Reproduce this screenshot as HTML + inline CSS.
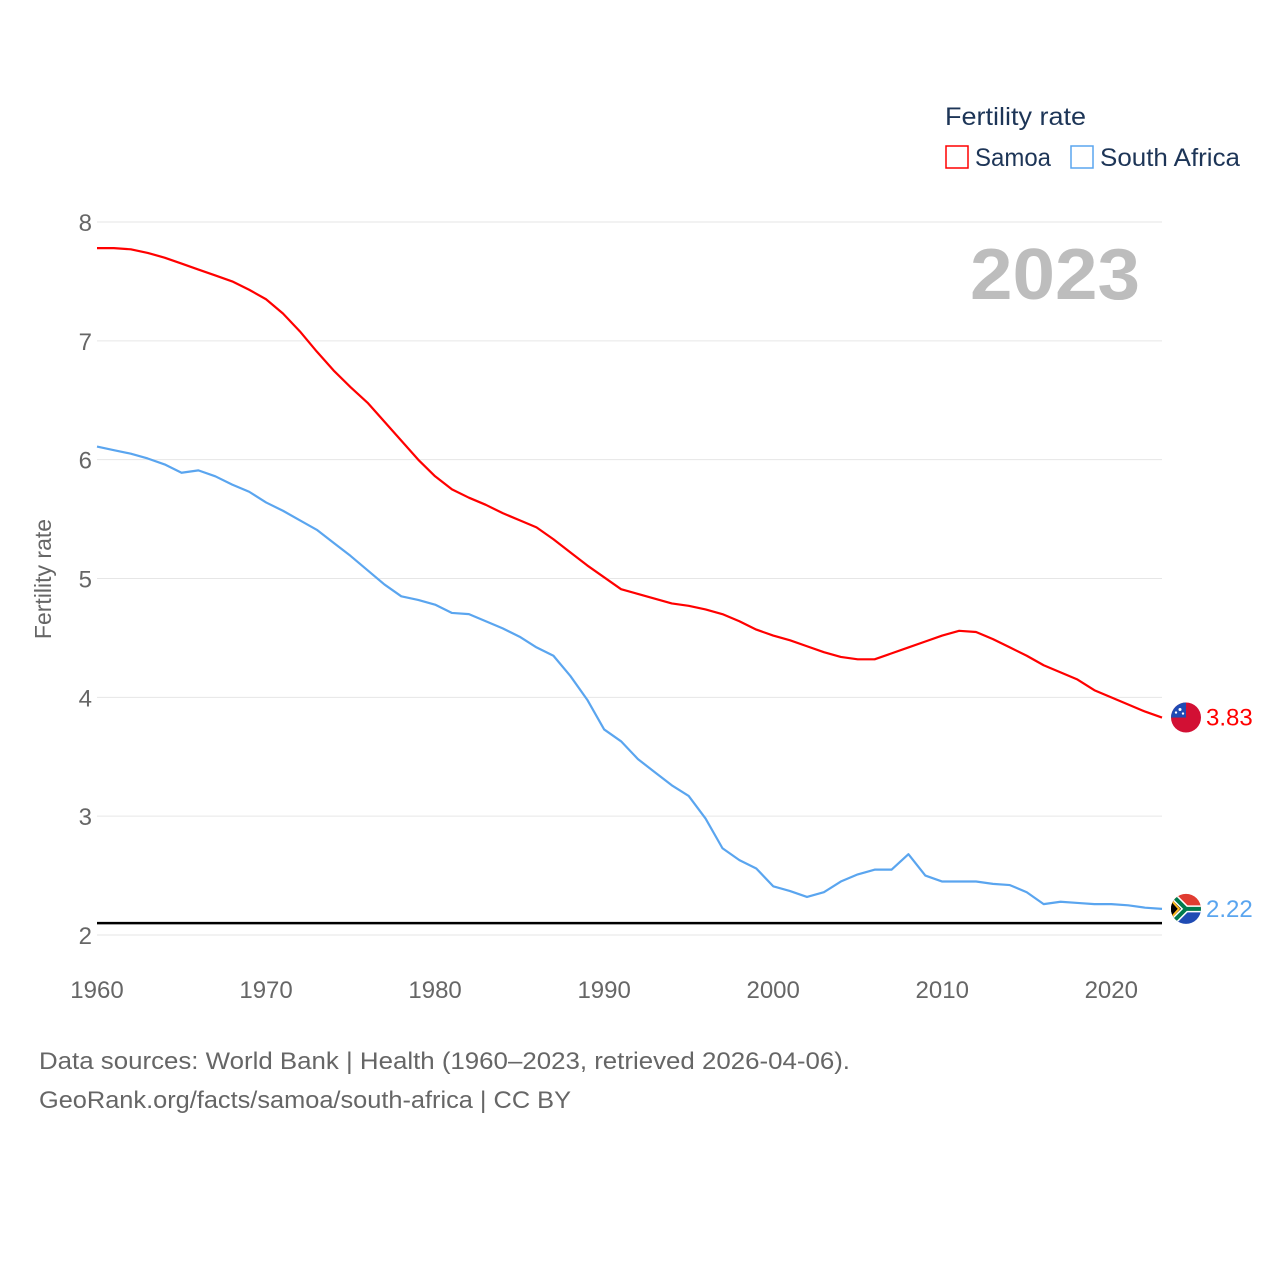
<!DOCTYPE html>
<html><head><meta charset="utf-8"><style>
body{margin:0;background:#fff;font-family:"Liberation Sans",sans-serif;}
</style></head><body>
<svg id="chart" width="1280" height="1280" xmlns="http://www.w3.org/2000/svg">
<g id="grid"></g>
<g id="series"></g>
<text x="970" y="299" textLength="170" lengthAdjust="spacingAndGlyphs" font-size="72" font-weight="bold" fill="#bdbdbd">2023</text>
<text x="945" y="125" textLength="141" lengthAdjust="spacingAndGlyphs" font-size="25" fill="#1d3557">Fertility rate</text>
<g><rect x="946" y="146" width="22" height="22" fill="none" stroke="#ff0000" stroke-width="1.5"/><text x="975" y="166" textLength="76" lengthAdjust="spacingAndGlyphs" font-size="25" fill="#1d3557">Samoa</text></g>
<g><rect x="1071" y="146" width="22" height="22" fill="none" stroke="#5aa5ef" stroke-width="1.5"/><text x="1100" y="166" textLength="140" lengthAdjust="spacingAndGlyphs" font-size="25" fill="#1d3557">South Africa</text></g>
<text transform="translate(51,579) rotate(-90)" text-anchor="middle" font-size="23" fill="#666">Fertility rate</text>
<text x="39" y="1069" textLength="811" lengthAdjust="spacingAndGlyphs" font-size="24" fill="#666">Data sources: World Bank | Health (1960–2023, retrieved 2026-04-06).</text>
<text x="39" y="1108" textLength="532" lengthAdjust="spacingAndGlyphs" font-size="24" fill="#666">GeoRank.org/facts/samoa/south-africa | CC BY</text>
</svg>
<script>
const years=[];for(let y=1960;y<=2023;y++)years.push(y);
const samoa=[7.78,7.78,7.77,7.74,7.70,7.65,7.60,7.55,7.50,7.43,7.35,7.23,7.08,6.91,6.75,6.61,6.48,6.32,6.16,6.00,5.86,5.75,5.68,5.62,5.55,5.49,5.43,5.33,5.22,5.11,5.01,4.91,4.87,4.83,4.79,4.77,4.74,4.70,4.64,4.57,4.52,4.48,4.43,4.38,4.34,4.32,4.32,4.37,4.42,4.47,4.52,4.56,4.55,4.49,4.42,4.35,4.27,4.21,4.15,4.06,4.00,3.94,3.88,3.83];
const southAfrica=[6.11,6.08,6.05,6.01,5.96,5.89,5.91,5.86,5.79,5.73,5.64,5.57,5.49,5.41,5.30,5.19,5.07,4.95,4.85,4.82,4.78,4.71,4.70,4.64,4.58,4.51,4.42,4.35,4.18,3.98,3.73,3.63,3.48,3.37,3.26,3.17,2.98,2.73,2.63,2.56,2.41,2.37,2.32,2.36,2.45,2.51,2.55,2.55,2.68,2.50,2.45,2.45,2.45,2.43,2.42,2.36,2.26,2.28,2.27,2.26,2.26,2.25,2.23,2.22];
const yTicks=[2,3,4,5,6,7,8];
const xTicks=[1960,1970,1980,1990,2000,2010,2020];
const replacementRate=2.1;
const NS="http://www.w3.org/2000/svg";
const xS=y=>97+(y-1960)*(1162-97)/63;
const yS=v=>935-(v-2)*(935-222)/6;
function mk(tag,attrs,parent){const e=document.createElementNS(NS,tag);for(const k in attrs)e.setAttribute(k,attrs[k]);parent.appendChild(e);return e;}
const grid=document.getElementById('grid'),ser=document.getElementById('series');
yTicks.forEach(t=>{
 const l=mk('line',{x1:97,x2:1162,y1:yS(t),y2:yS(t),stroke:'#e6e6e6','stroke-width':1},grid);
 
 
 const tx=mk('text',{x:92,y:yS(t)+9,'text-anchor':'end','font-size':24,fill:'#666'},grid);
 tx.textContent=t;
 
 
});
xTicks.forEach(t=>{
 const tx=mk('text',{x:xS(t),y:998,'text-anchor':'middle','font-size':24,fill:'#666'},grid);
 tx.textContent=t;
 
 
});
const ref=mk('line',{x1:97,x2:1162,y1:yS(replacementRate),y2:yS(replacementRate),stroke:'#000','stroke-width':2.5},ser);


function line(vals,color,name){
 const p=mk('polyline',{points:vals.map((v,i)=>xS(years[i])+','+yS(v)).join(' '),fill:'none',stroke:color,'stroke-width':2.2,'stroke-linejoin':'round'},ser);
 
 
}
line(samoa,'#ff0000','samoa-line');
line(southAfrica,'#5aa5ef','south-africa-line');
const sy=yS(samoa[samoa.length-1]),ay=yS(southAfrica[southAfrica.length-1]);
const fl=document.createElementNS(NS,'g');ser.appendChild(fl);
fl.innerHTML=`<g><clipPath id="c1"><circle cx="1186" cy="${sy}" r="15"/></clipPath><g clip-path="url(#c1)"><rect x="1170" y="${sy-16}" width="32" height="32" fill="#d21034"/><rect x="1170" y="${sy-16}" width="16" height="16" fill="#1f4bb4"/><circle cx="1180" cy="${sy-8}" r="1.5" fill="#fff"/><circle cx="1176" cy="${sy-5}" r="1.2" fill="#fff"/><circle cx="1183" cy="${sy-4}" r="1.2" fill="#fff"/></g></g>
<text x="1206" y="${sy+8}" font-size="24" fill="#ff0000">${samoa[samoa.length-1].toFixed(2)}</text>
<g><clipPath id="c2"><circle cx="1186" cy="${ay}" r="15"/></clipPath><g clip-path="url(#c2)"><rect x="1170" y="${ay-16}" width="32" height="16" fill="#e03c31"/><rect x="1170" y="${ay}" width="32" height="16" fill="#1f4bb4"/><path d="M1170 ${ay-16} L1186 ${ay} L1170 ${ay+16}" fill="#000" stroke="#ffb81c" stroke-width="3"/><path d="M1170 ${ay-16} L1186 ${ay} L1202 ${ay} M1170 ${ay+16} L1186 ${ay}" stroke="#fff" stroke-width="7" fill="none"/><path d="M1168 ${ay-18} L1186 ${ay} L1202 ${ay} M1168 ${ay+18} L1186 ${ay}" stroke="#007a4d" stroke-width="4" fill="none"/><path d="M1170 ${ay-10} L1179 ${ay} L1170 ${ay+10}" fill="#000" stroke="#ffb81c" stroke-width="2"/></g></g>
<text x="1206" y="${ay+8}" font-size="24" fill="#5aa5ef">${southAfrica[southAfrica.length-1].toFixed(2)}</text>`;
</script>
</body></html>
